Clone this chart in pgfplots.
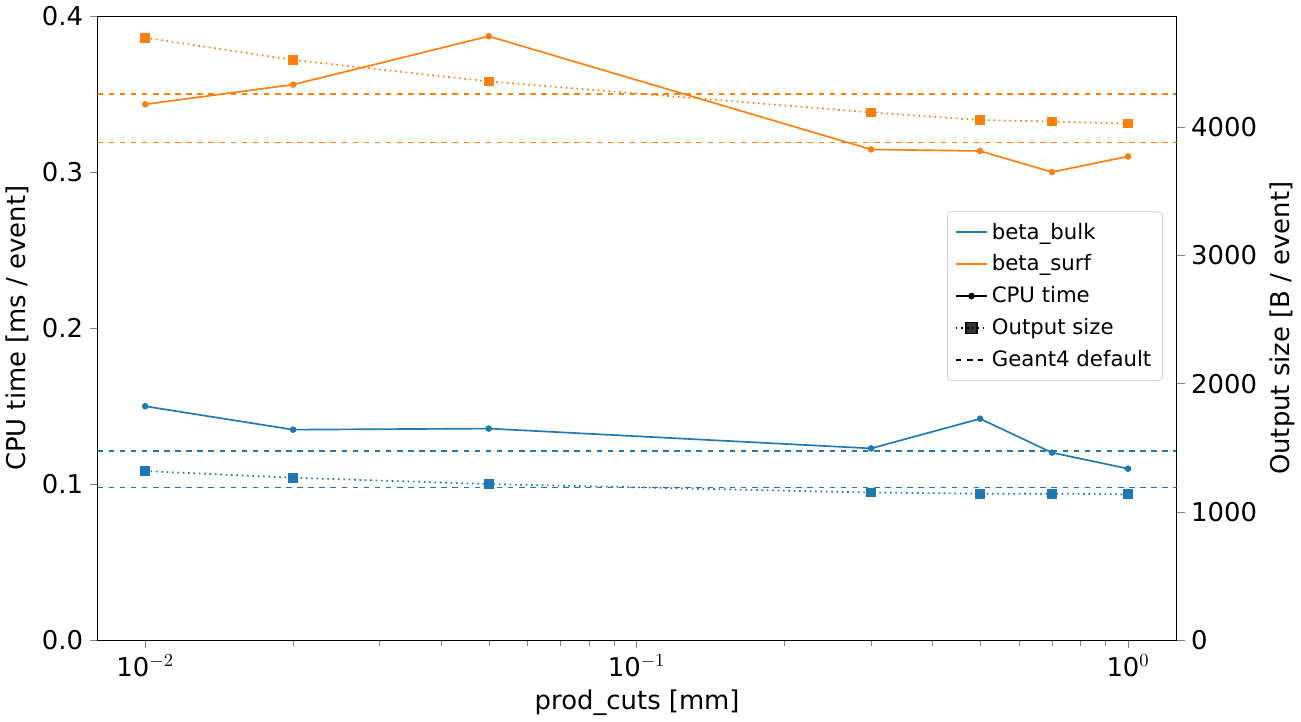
\documentclass[border=0pt]{standalone}
\usepackage{pgfplots}
\pgfplotsset{compat=1.18}
\usepackage{fontspec}
\setmainfont{DejaVu Sans}
\definecolor{cb}{HTML}{1F77B4}
\definecolor{co}{HTML}{FF7F0E}
\begin{document}
\begin{tikzpicture}
\pgfplotsset{every axis/.append style={scale only axis, width=583.8pt, height=337.8pt,
  xmode=log, xmin=0.007998, xmax=1.2566, ymin=0,
  tick label style={font=\fontsize{14}{16}\selectfont},
  label style={font=\fontsize{14}{16}\selectfont},
  /pgf/number format/assume math mode=true,
  tick align=outside}}
\begin{axis}[ymax=0.4, xtick pos=bottom, ytick pos=left,
  ytick={0,0.1,0.2,0.3,0.4},
  yticklabel style={/pgf/number format/.cd,fixed,precision=1,zerofill},
  xtick={0.01,0.1,1}, xticklabels={10$^{-2}$,10$^{-1}$,10$^{0}$},
  xlabel={prod\_cuts [mm]}, ylabel={CPU time [ms / event]}]
\addplot[cb, line width=0.9pt, mark=*, mark size=1.3pt] coordinates {(0.01,0.150)(0.02,0.135)(0.05,0.1357)(0.3,0.123)(0.5,0.142)(0.7,0.1203)(1.0,0.110)};
\addplot[co, line width=0.9pt, mark=*, mark size=1.3pt] coordinates {(0.01,0.3434)(0.02,0.356)(0.05,0.387)(0.3,0.3145)(0.5,0.3135)(0.7,0.300)(1.0,0.310)};
\addplot[cb, dashed, line width=0.9pt] coordinates {(0.007998,0.1215)(1.2566,0.1215)};
\addplot[co, dashed, line width=0.9pt] coordinates {(0.007998,0.3498)(1.2566,0.3498)};
\end{axis}
\begin{axis}[ymax=4864, axis y line*=right, axis x line=none,
  ytick={0,1000,2000,3000,4000},
  yticklabel style={/pgf/number format/.cd,fixed,1000 sep={}},
  ylabel={Output size [B / event]},
  legend style={at={(0.987,0.687)}, anchor=north east, font=\fontsize{11.5}{14}\selectfont,
    draw=black!20, rounded corners=2pt, fill=white, fill opacity=0.8, text opacity=1,
    row sep=3pt, inner sep=4pt},
  legend cell align=left]
\addplot[cb, dotted, line width=0.9pt, mark=square*, mark size=2.2pt, mark options={solid}, forget plot] coordinates {(0.01,1319)(0.02,1267)(0.05,1218)(0.3,1152)(0.5,1143)(0.7,1143)(1.0,1138)};
\addplot[co, dotted, line width=0.9pt, mark=square*, mark size=2.2pt, mark options={solid}, forget plot] coordinates {(0.01,4694)(0.02,4521)(0.05,4354)(0.3,4112)(0.5,4054)(0.7,4041)(1.0,4026)};
\addplot[cb, dashed, line width=0.9pt, forget plot] coordinates {(0.007998,1190)(1.2566,1190)};
\addplot[co, dashed, line width=0.9pt, forget plot] coordinates {(0.007998,3879)(1.2566,3879)};
\addlegendimage{cb, line width=0.9pt}
\addlegendentry{beta\_bulk}
\addlegendimage{co, line width=0.9pt}
\addlegendentry{beta\_surf}
\addlegendimage{black, line width=0.9pt, mark=*, mark size=1.3pt}
\addlegendentry{CPU time}
\addlegendimage{black, dotted, line width=0.9pt, mark=square*, mark size=3pt, mark options={solid}}
\addlegendentry{Output size}
\addlegendimage{black, dashed, line width=0.9pt}
\addlegendentry{Geant4 default}
\end{axis}
\end{tikzpicture}
\end{document}
